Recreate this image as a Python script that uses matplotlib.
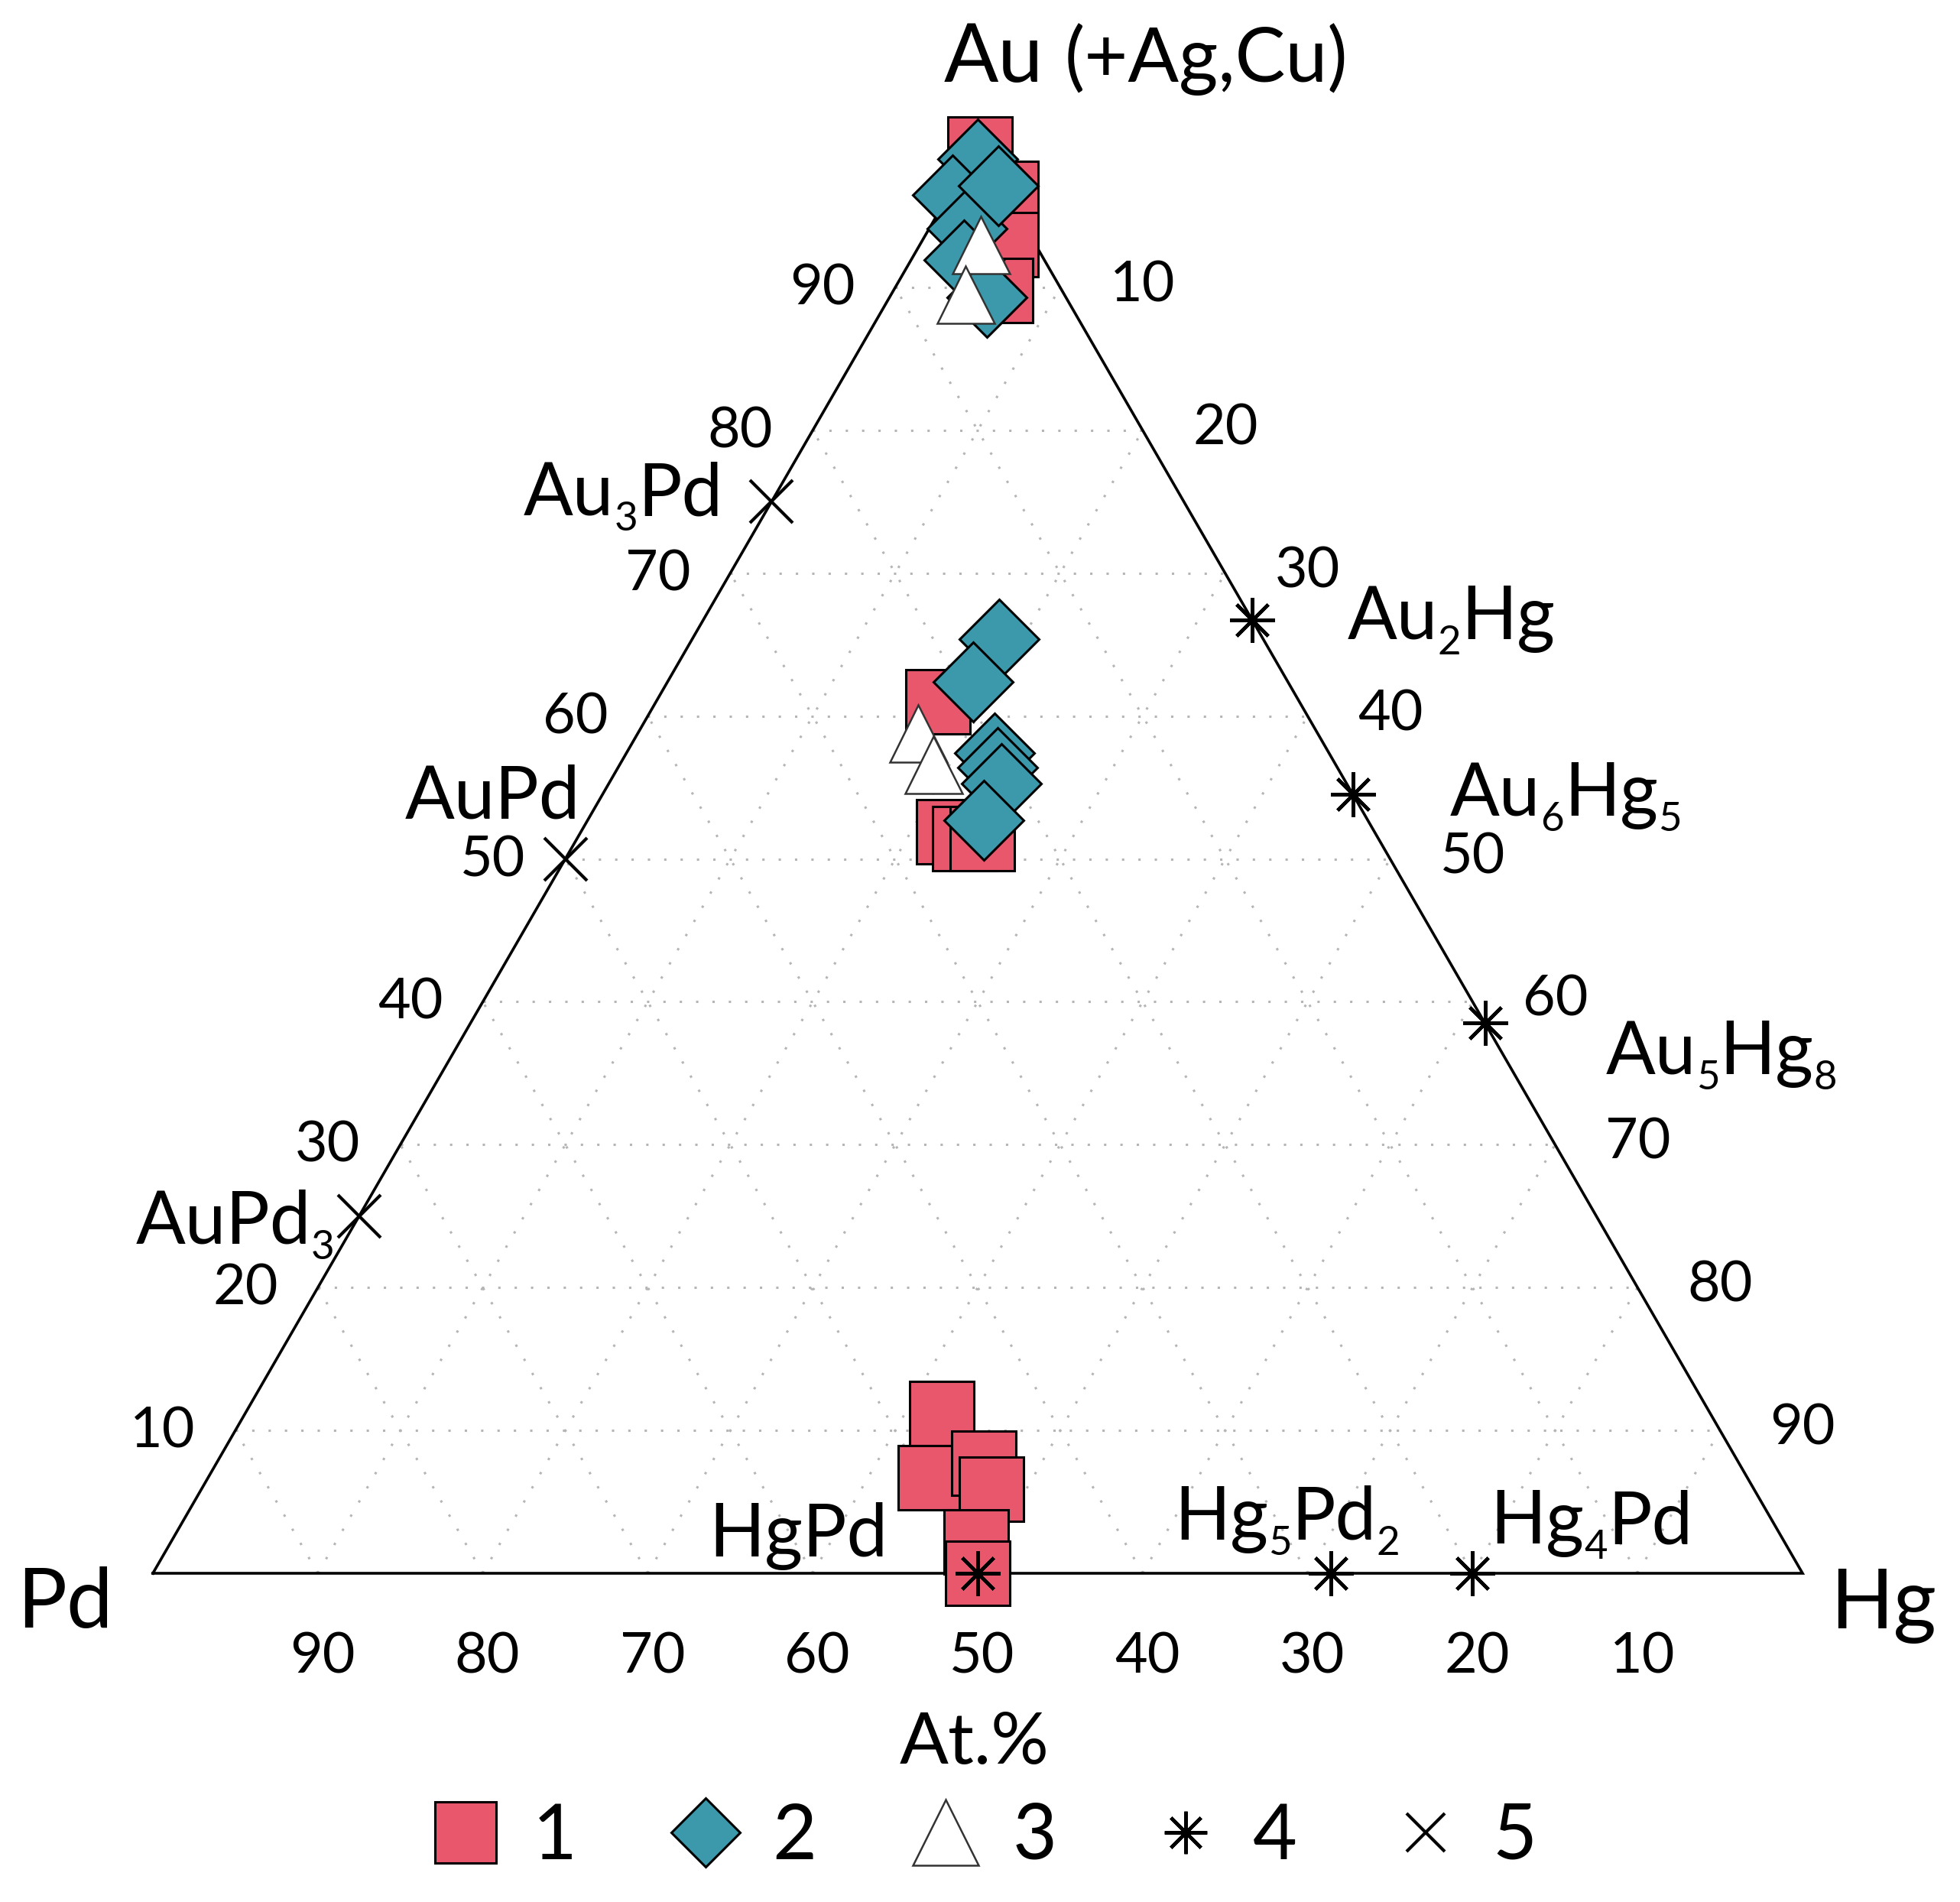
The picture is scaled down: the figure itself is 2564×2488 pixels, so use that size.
"""
Ternary diagram Au(+Ag,Cu) - Hg - Pd with compositions of the grains
and the known intermetallic compounds.
"""
import re
import matplotlib.pyplot as plt
from matplotlib.lines import Line2D
import numpy as np

plt.rcParams['font.family'] = ['Lato', 'DejaVu Sans']

# --- data (at.%) -------------------------------------------------------
# 1 - red squares
g1_au = [99.7, 96.6, 93.0, 89.8, 61.0, 51.9, 51.4, 51.4, 11.2, 6.7, 7.7, 5.9, 2.2, 0.0]
g1_hg = [0.3, 3.4, 5.2, 6.5, 17.1, 22.3, 23.5, 24.6, 42.2, 43.8, 46.5, 47.9, 48.8, 50.0]

# 2 - teal diamonds
g2_au = [99.0, 96.5, 94.1, 91.9, 89.3, 97.1, 65.4, 62.4, 57.4, 56.4, 55.3, 52.7]
g2_hg = [0.5, 0.2, 2.3, 3.2, 5.9, 2.7, 18.6, 18.5, 22.3, 23.0, 23.8, 24.0]

# 3 - open triangles
g3_au = [93.0, 89.5, 58.8, 56.6]
g3_hg = [3.7, 4.5, 17.0, 19.0]

# 4 - Hg compounds (asterisks)
c4_names = ['HgPd', 'Hg_5Pd_2', 'Hg_4Pd', 'Au_2Hg', 'Au_6Hg_5', 'Au_5Hg_8']
c4_au = [0.0, 0.0, 0.0, 66.7, 54.5, 38.5]
c4_hg = [50.0, 71.4, 80.0, 33.3, 45.5, 61.5]

# 5 - Au-Pd compounds (crosses)
c5_names = ['Au_3Pd', 'AuPd', 'AuPd_3']
c5_au = [75.0, 50.0, 25.0]
c5_hg = [0.0, 0.0, 0.0]

ticks = [10, 20, 30, 40, 50, 60, 70, 80, 90]

# label offsets (pixels) and alignment for the compound names
c4_offsets = [(-118, 22, 'right'), (-205, 44, 'left'), (23, 39, 'left'),
              (124, -25, 'left'), (127, -28, 'left'), (158, -67, 'left')]
c5_offsets = [(-64, -18, 'right'), (20, 53, 'right'), (-32, -36, 'right')]

RED = '#E9576D'
TEAL = '#3B99AB'


def tern(au, hg):
    """Au, Hg in % -> cartesian (Pd at origin, Hg at (1, 0))"""
    au = np.asarray(au, dtype=float) / 100.0
    hg = np.asarray(hg, dtype=float) / 100.0
    return hg + au / 2.0, au * np.sqrt(3) / 2.0


fig = plt.figure(figsize=(25.64, 24.88), dpi=100)
ax = fig.add_axes([0, 0, 1, 1])
side = 2158.0
ax.set_xlim(-200 / side, 2364 / side)
ax.set_ylim(-430 / side, 2058 / side)
ax.set_aspect('equal')
ax.axis('off')
renderer = fig.canvas.get_renderer()


def draw_formula(name, xy, dx, dy, ha, size=69):
    """Write a formula like Au_3Pd with small, lowered subscripts."""
    pieces = re.split(r'_(\d+)', name)
    texts, widths, subs = [], [], []
    for i, p in enumerate(pieces):
        if not p:
            continue
        sub = i % 2 == 1
        t = ax.annotate(p, xy, xytext=(0, 0), textcoords='offset pixels',
                        fontsize=size * 0.55 if sub else size,
                        ha='left', va='baseline', zorder=7)
        texts.append(t)
        widths.append(t.get_window_extent(renderer).width)
        subs.append(sub)
    x0 = dx - sum(widths) if ha == 'right' else dx
    for t, w, sub in zip(texts, widths, subs):
        t.set_position((x0, dy - 20 if sub else dy))
        x0 += w


# dotted grid
grid_kw = dict(color='#b5b5b5', lw=2.2, ls=(0, (1, 6)), zorder=1)
for c in ticks:
    x, y = tern([c, c], [0, 100 - c])
    ax.plot(x, y, **grid_kw)
    x, y = tern([0, 100 - c], [c, c])
    ax.plot(x, y, **grid_kw)
    x, y = tern([0, 100 - c], [100 - c, 0])
    ax.plot(x, y, **grid_kw)

# triangle frame
x, y = tern([0, 0, 100, 0], [0, 100, 0, 0])
ax.plot(x, y, color='black', lw=2.6, zorder=2, solid_joinstyle='miter')

# tick labels
tick_kw = dict(textcoords='offset pixels', ha='center', va='center', fontsize=53)
for v in ticks:
    ax.annotate(str(v), tern(v, 0), xytext=(-95, -2), **tick_kw)
    ax.annotate(str(v), tern(100 - v, v), xytext=(108, 2), **tick_kw)
    ax.annotate(str(v), tern(0, 100 - v), xytext=(6, -110), **tick_kw)

# corner labels
ax.annotate('Pd', tern(0, 0), xytext=(-115, -40), textcoords='offset pixels',
            ha='center', va='center', fontsize=78)
ax.annotate('Hg', tern(0, 100), xytext=(106, -43), textcoords='offset pixels',
            ha='center', va='center', fontsize=78)
ax.annotate('Au', tern(100, 0), xytext=(-44, 82), textcoords='offset pixels',
            ha='left', va='baseline', fontsize=76)
ax.annotate('(+Ag,Cu)', tern(100, 0), xytext=(114, 82), textcoords='offset pixels',
            ha='left', va='baseline', fontsize=71)
ax.annotate('At.%', tern(0, 50), xytext=(-4, -223), textcoords='offset pixels',
            ha='center', va='center', fontsize=68)

# data points
x, y = tern(g1_au, g1_hg)
ax.plot(x, y, 's', ms=60, mfc=RED, mec='black', mew=2.2, zorder=3)
x, y = tern(g2_au, g2_hg)
ax.plot(x, y, 'D', ms=53, mfc=TEAL, mec='black', mew=2.2, zorder=4)
x, y = tern(g3_au, g3_hg)
ax.plot(x, y, '^', ms=54, mfc='white', mec='#333333', mew=1.8, zorder=5)

x4, y4 = tern(c4_au, c4_hg)
ax.plot(x4, y4, ls='none', marker=(8, 2, 0), ms=42, mec='black', mew=3.2, zorder=6)
x5, y5 = tern(c5_au, c5_hg)
ax.plot(x5, y5, 'x', ms=40, mec='black', mew=3.0, zorder=6)

for name, xx, yy, (dx, dy, ha) in zip(c4_names, x4, y4, c4_offsets):
    draw_formula(name, (xx, yy), dx, dy, ha)
for name, xx, yy, (dx, dy, ha) in zip(c5_names, x5, y5, c5_offsets):
    draw_formula(name, (xx, yy), dx, dy, ha)

# legend
handles = [
    Line2D([], [], ls='none', marker='s', ms=58, mfc=RED, mec='black', mew=2.2),
    Line2D([], [], ls='none', marker='D', ms=46, mfc=TEAL, mec='black', mew=2.2),
    Line2D([], [], ls='none', marker='^', ms=62, mfc='white', mec='#333333', mew=1.8),
    Line2D([], [], ls='none', marker=(8, 2, 0), ms=40, mec='black', mew=3.2),
    Line2D([], [], ls='none', marker='x', ms=36, mec='black', mew=3.0),
]
fig.legend(handles, ['1', '2', '3', '4', '5'], loc='center',
           bbox_to_anchor=(0.501, 0.034), ncol=5, frameon=False,
           fontsize=72, handlelength=1.0, handletextpad=0.38,
           columnspacing=1.18, borderpad=0)

fig.savefig('out.png', dpi=100)
